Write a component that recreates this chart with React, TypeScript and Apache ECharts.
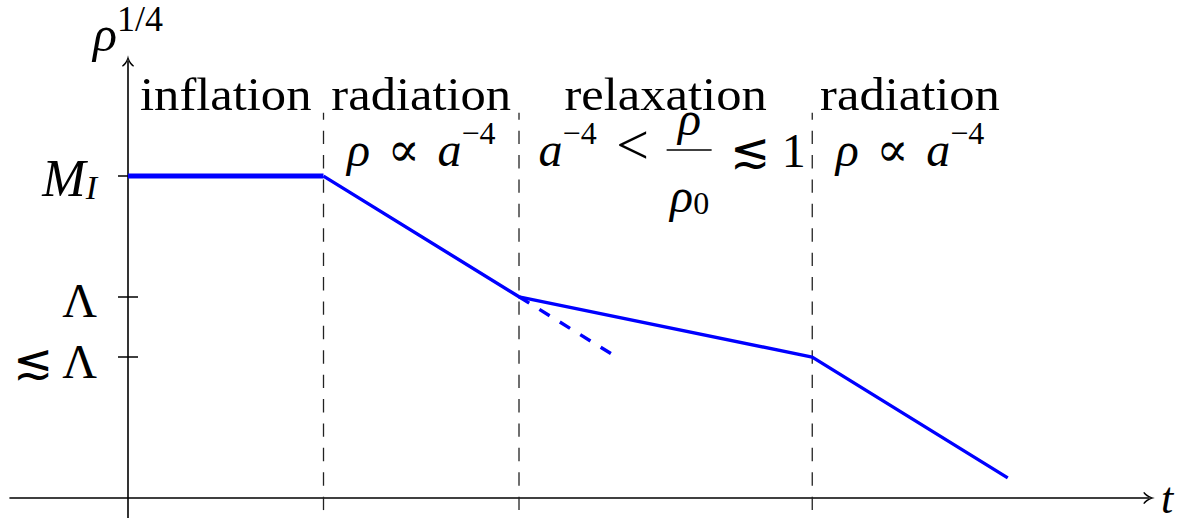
import React, { useEffect, useRef } from 'react';
import * as echarts from 'echarts';

// Energy scale rho^(1/4) against time t, one straight piece per era
const phaseT = [0, 1, 2, 3.5, 4.5];
const rhoQuarter = [3.2, 3.2, 2.0, 1.4, 0.2];
// Radiation scaling continued past the onset of relaxation
const extrapT = [2, 2.474];
const extrapRho = [2.0, 1.431];
// Era boundaries and the vertical extent of their dashed guides
const boundaryT = [1, 2, 3.5];
const boundaryRho = [-0.12, 3.83];
// Marked levels on the vertical axis
const levelValues = [3.2, 2.0, 1.4];
const levelLabels = ['{m|M}{sub|I}', '{g|Λ}', '{g|≲ Λ}'];
const eraNames = ['inflation', 'radiation', 'relaxation', 'radiation'];

const X_MIN = -0.6036;
const X_MAX = 5.2225;
const Y_MIN = -0.1988;
const Y_MAX = 4.344;

const GRID_LEFT = 10;
const GRID_RIGHT = 40;
const CHART_W = 1189;

const SERIF = '"Liberation Serif", "DejaVu Serif", serif';
const INK = '#000';
const BLUE = '#0000ff';
const ARROW =
  'path://M6,0 Q6.8,6 12,10.5 L11.2,11.6 Q7,8.5 6,4 Q5,8.5 0.8,11.6 L0,10.5 Q5.2,6 6,0 Z';

// rich styles for math set inside graphic texts (zrender uses fill)
const mathRich = {
  i: { fontFamily: SERIF, fontStyle: 'italic', fontSize: 48, lineHeight: 56, verticalAlign: 'bottom', fill: INK },
  r: { fontFamily: SERIF, fontSize: 48, lineHeight: 56, verticalAlign: 'bottom', fill: INK },
  big: { fontFamily: SERIF, fontSize: 58, lineHeight: 56, verticalAlign: 'bottom', fill: INK },
  s: { fontFamily: SERIF, fontSize: 70, lineHeight: 56, verticalAlign: 'bottom', fill: INK },
  sup: { fontFamily: SERIF, fontSize: 32, lineHeight: 40, verticalAlign: 'top', fill: INK },
  sub: { fontFamily: SERIF, fontSize: 32, lineHeight: 32, verticalAlign: 'bottom', fill: INK },
  w: { fontFamily: SERIF, fontSize: 46, lineHeight: 56, verticalAlign: 'bottom', fill: INK },
};

// rich styles for axis texts (echarts uses color)
const axisRich = {
  m: { fontFamily: SERIF, fontStyle: 'italic', fontSize: 52, lineHeight: 56, verticalAlign: 'bottom', color: INK },
  g: { fontFamily: SERIF, fontSize: 48, lineHeight: 56, verticalAlign: 'bottom', color: INK },
  i: { fontFamily: SERIF, fontStyle: 'italic', fontSize: 50, lineHeight: 58, verticalAlign: 'bottom', color: INK },
  sub: { fontFamily: SERIF, fontStyle: 'italic', fontSize: 34, lineHeight: 32, verticalAlign: 'bottom', color: INK },
  sup: { fontFamily: SERIF, fontSize: 36, lineHeight: 34, verticalAlign: 'top', color: INK },
};

const levelText = (v: number) => {
  const k = levelValues.findIndex((x) => Math.abs(x - v) < 1e-9);
  return k >= 0 ? levelLabels[k] : '';
};

export default function App() {
  const ref = useRef<HTMLDivElement>(null);

  useEffect(() => {
    if (!ref.current) return;
    const chart = echarts.init(ref.current, null, { renderer: 'svg' });

    const pairs = (ts: number[], vs: number[]) => ts.map((t, k) => [t, vs[k]]);

    // the vertical axis stands at t = 0, inside the grid; shift it there from the grid's left edge
    const plotW = CHART_W - GRID_LEFT - GRID_RIGHT;
    const yAxisShift = -((0 - X_MIN) / (X_MAX - X_MIN)) * plotW;

    const guideSeries = boundaryT.map((t) => ({
      type: 'line',
      data: boundaryRho.map((v) => [t, v]),
      symbol: 'none',
      silent: true,
      z: 1,
      lineStyle: { color: '#222', width: 1.3, type: [13.4, 11] },
    }));

    chart.setOption({
      animation: false,
      grid: {
        left: GRID_LEFT,
        right: GRID_RIGHT,
        top: 61,
        bottom: 0,
        containLabel: false,
        outerBoundsMode: 'none',
      },
      xAxis: {
        type: 'value',
        min: X_MIN,
        max: X_MAX,
        name: 't',
        nameLocation: 'end',
        nameGap: 12,
        nameTextStyle: {
          fontFamily: SERIF,
          fontStyle: 'italic',
          fontSize: 44,
          verticalAlign: 'middle',
          padding: [0, 0, 12, 0],
          color: INK,
        },
        axisLine: {
          onZero: true,
          symbol: ['none', ARROW],
          symbolSize: [12, 12],
          lineStyle: { color: INK, width: 1.6 },
        },
        axisTick: { show: false },
        axisLabel: { show: false },
        splitLine: { show: false },
      },
      yAxis: [
        {
          type: 'value',
          position: 'left',
          offset: yAxisShift,
          min: Y_MIN,
          max: Y_MAX,
          name: '{i|ρ}{sup|1/4}',
          nameLocation: 'end',
          nameGap: 2,
          nameTextStyle: { align: 'center', verticalAlign: 'bottom', rich: axisRich },
          axisLine: {
            onZero: false,
            symbol: ['none', ARROW],
            symbolSize: [12, 12],
            lineStyle: { color: INK, width: 1.6 },
          },
          axisTick: {
            show: true,
            customValues: levelValues,
            length: 10,
            inside: false,
            lineStyle: { color: INK, width: 1.5 },
          },
          axisLabel: {
            show: true,
            customValues: levelValues,
            margin: 31,
            formatter: (v: number) => levelText(v),
            rich: axisRich,
          },
          splitLine: { show: false },
        },
        {
          // inner half of the level ticks
          type: 'value',
          position: 'left',
          offset: yAxisShift,
          min: Y_MIN,
          max: Y_MAX,
          axisLine: { show: false, onZero: false },
          axisTick: {
            show: true,
            customValues: levelValues,
            length: 10,
            inside: true,
            lineStyle: { color: INK, width: 1.5 },
          },
          axisLabel: { show: false },
          splitLine: { show: false },
        },
      ],
      series: [
        ...guideSeries,
        {
          type: 'line',
          data: pairs(phaseT.slice(0, 2), rhoQuarter.slice(0, 2)),
          symbol: 'none',
          z: 3,
          lineStyle: { color: BLUE, width: 5 },
        },
        {
          type: 'line',
          data: pairs(phaseT.slice(1), rhoQuarter.slice(1)),
          symbol: 'none',
          z: 3,
          lineStyle: { color: BLUE, width: 3.4 },
        },
        {
          type: 'line',
          data: pairs(extrapT, extrapRho),
          symbol: 'none',
          z: 3,
          lineStyle: { color: BLUE, width: 3.4, type: [12, 12] },
        },
      ],
    });

    // era captions, centred on each era through the x scale
    const px = (t: number) => chart.convertToPixel({ xAxisIndex: 0 }, t) as number;
    const mids = eraNames.map((_, k) => (phaseT[k] + phaseT[k + 1]) / 2);
    const graphic: any[] = [];

    eraNames.forEach((name, k) => {
      graphic.push({
        type: 'text',
        x: px(mids[k]),
        y: 61,
        scaleX: 1.1,
        silent: true,
        style: { text: `{w|${name}}`, rich: mathRich, align: 'center', verticalAlign: 'top' },
      });
    });

    // rho ∝ a^-4 under both radiation eras
    [1, 3].forEach((k) => {
      graphic.push({
        type: 'text',
        x: px(mids[k]),
        y: 117,
        silent: true,
        style: {
          text: '{i|ρ}{s| }{r|∝}{s| }{i|a}{sup|−4}',
          rich: mathRich,
          align: 'center',
          verticalAlign: 'top',
        },
      });
    });

    // a^-4 < rho/rho_0 ≲ 1 under relaxation
    const cx = px(mids[2]);
    graphic.push(
      {
        type: 'text',
        x: cx - 69,
        y: 117,
        silent: true,
        style: { text: '{i|a}{sup|−4}', rich: mathRich, align: 'right', verticalAlign: 'top' },
      },
      {
        type: 'text',
        x: cx - 33,
        y: 117,
        silent: true,
        style: { text: '{big|<}', rich: mathRich, align: 'center', verticalAlign: 'top' },
      },
      {
        type: 'text',
        x: cx + 24,
        y: 86,
        silent: true,
        style: { text: '{i|ρ}', rich: mathRich, align: 'center', verticalAlign: 'top' },
      },
      {
        type: 'line',
        silent: true,
        shape: { x1: cx + 1, y1: 150, x2: cx + 46, y2: 150 },
        style: { stroke: INK, lineWidth: 1.6 },
      },
      {
        type: 'text',
        x: cx + 24,
        y: 163,
        silent: true,
        style: { text: '{i|ρ}{sub|0}', rich: mathRich, align: 'center', verticalAlign: 'top' },
      },
      {
        type: 'text',
        x: cx + 64,
        y: 118,
        silent: true,
        style: { text: '{r|≲ 1}', rich: mathRich, align: 'left', verticalAlign: 'top' },
      }
    );

    chart.setOption({ graphic });

    return () => {
      chart.dispose();
    };
  }, []);

  return (
    <div
      ref={ref}
      style={{ position: 'fixed', left: 0, top: 0, width: CHART_W, height: 518, background: '#fff' }}
    />
  );
}
